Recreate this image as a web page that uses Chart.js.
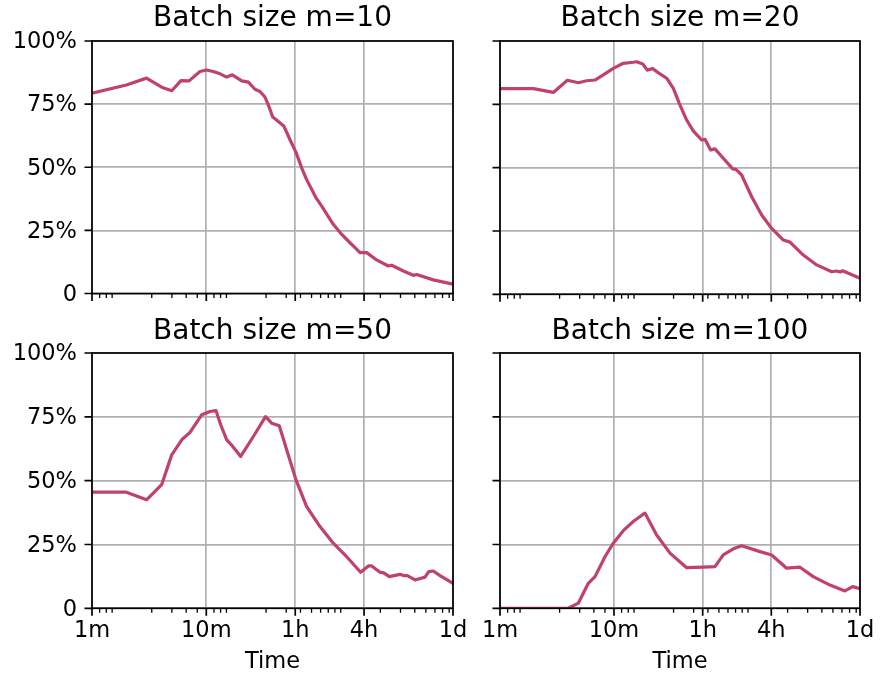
<!DOCTYPE html>
<html>
<head>
<meta charset="utf-8">
<script src="https://cdn.jsdelivr.net/npm/chart.js@4/dist/chart.umd.min.js"></script>
<style>
  html, body { margin: 0; padding: 0; background: #fff; width: 889px; height: 675px; overflow: hidden; }
  canvas { position: absolute; }
</style>
</head>
<body>
<canvas id="c1"></canvas>
<canvas id="c2"></canvas>
<canvas id="c3"></canvas>
<canvas id="c4"></canvas>
<script>
// ---- data (x in seconds, y in percent) ----
const titles = ['Batch size m=10', 'Batch size m=20', 'Batch size m=50', 'Batch size m=100'];

const timesM10 = [60,120,180,244,299,360,424,528,602,690,791,905,1014,1225,1400,1600,1770,1956,2093,2286,2560,2870,3240,3655,4103,4530,5471,6137,7741,9180,10848,12000,13260,15180,18540,23460,25140,31800,38820,41580,58080,86400];
const valuesM10 = [79.3,82.6,85.3,81.7,80.3,84.3,84.2,87.9,88.5,87.9,87.0,85.7,86.6,84.2,83.7,80.9,80.0,77.8,74.7,69.9,68.1,66.2,60.9,55.9,49.7,45.1,37.9,34.6,27.4,23.4,20.1,18.2,16.2,16.2,13.3,10.9,11.2,8.9,7.2,7.5,5.4,3.7];

const timesM20 = [60,118,176,234,292,345,409,484,592,724,886,948,1073,1176,1310,1520,1740,1990,2244,2604,2976,3527,3768,4230,4614,5460,6600,7050,7908,9684,11856,14508,18360,21000,27480,36000,48780,53940,57600,60840,86400];
const valuesM20 = [81.2,81.2,79.7,84.5,83.5,84.3,84.6,86.6,89.2,91.2,91.6,91.8,90.9,88.5,89.1,87.0,85.3,81.3,75.4,68.8,64.5,60.9,61.2,57.0,57.4,53.7,49.5,49.3,47.1,38.5,31.3,26.0,21.4,20.6,15.5,11.6,8.9,9.2,8.8,9.3,6.3];

const timesM50 = [60,120,180,244,299,366,432,547,646,730,802,905,1014,1200,1548,1980,2240,2610,3030,3655,4530,5928,7741,10140,13440,15720,16800,19860,21240,23940,29700,31800,34440,40200,49140,53220,58080,66540,86400];
const valuesM50 = [45.5,45.5,42.5,48.4,60.1,66.0,68.9,75.8,77.1,77.4,71.9,66.0,63.6,59.5,67.3,75.1,72.5,71.5,62.1,50.3,39.8,32.0,25.5,20.2,14.1,16.6,16.6,14.1,14.0,12.4,13.3,12.8,12.8,11.1,12.2,14.4,14.6,12.8,9.8];

const timesM100 = [60,238,292,357,409,500,592,724,886,1122,1420,1860,2604,3648,4614,5460,6684,7908,11460,14508,19620,25680,33600,47100,63720,74520,86400];
const valuesM100 = [0,0,2.0,9.8,12.4,20.2,25.5,30.4,34.0,37.3,28.7,21.6,15.9,16.1,16.3,20.9,23.3,24.5,22.2,20.9,15.7,16.1,12.4,9.1,6.8,8.5,7.7];

const xTickValues = [60, 600, 3600, 14400, 86400];
const xTickLabels = ['1m', '10m', '1h', '4h', '1d'];
const xMinorTicks = [70,80,90,200,300,400,500,700,800,900,2000,3000,4000,5000,6000,7000,8000,9000,20000,30000,40000,50000,60000,70000,80000];
const yTickValues = [0, 25, 50, 75, 100];
const yTickLabels = ['0', '25%', '50%', '75%', '100%'];
const xAxisTitle = 'Time';

// ---- style ----
const LINE = '#c0416b';
const GRID = '#b0b0b0';
const FONT = 'DejaVu Sans';
const TITLE_SIZE = 28;
const TICK_SIZE = 22.5;

const framePlugin = {
  id: 'frame',
  afterDraw(chart) {
    const {ctx, chartArea: a, scales: {x, y}} = chart;
    ctx.save();
    ctx.strokeStyle = '#000';
    ctx.lineCap = 'butt';
    ctx.lineWidth = 1.7;
    ctx.beginPath();
    xTickValues.forEach(v => { const p = x.getPixelForValue(v); ctx.moveTo(p, a.bottom); ctx.lineTo(p, a.bottom + 7.5); });
    yTickValues.forEach(v => { const p = y.getPixelForValue(v); ctx.moveTo(a.left, p); ctx.lineTo(a.left - 7.5, p); });
    ctx.stroke();
    ctx.lineWidth = 1.3;
    ctx.beginPath();
    xMinorTicks.forEach(v => { const p = x.getPixelForValue(v); ctx.moveTo(p, a.bottom); ctx.lineTo(p, a.bottom + 4.4); });
    ctx.stroke();
    ctx.lineWidth = 1.7;
    ctx.strokeRect(a.left, a.top, a.right - a.left, a.bottom - a.top);
    ctx.restore();
  }
};

function makeChart(id, cfg) {
  const cv = document.getElementById(id);
  cv.width = cfg.w; cv.height = cfg.h;
  cv.style.left = cfg.left + 'px'; cv.style.top = cfg.top + 'px';
  cv.style.width = cfg.w + 'px'; cv.style.height = cfg.h + 'px';
  const data = cfg.times.map((t, i) => ({x: t, y: cfg.values[i]}));
  const lh = TITLE_SIZE * 1.2;
  return new Chart(cv, {
    type: 'line',
    data: { datasets: [{ data, borderColor: LINE, borderWidth: 3.2, pointRadius: 0, tension: 0, fill: false, borderJoinStyle: 'round', borderCapStyle: 'butt' }] },
    options: {
      responsive: false, animation: false, devicePixelRatio: 1,
      layout: { padding: { left: 0, right: cfg.padRight, top: 0, bottom: 0 } },
      plugins: {
        legend: { display: false }, tooltip: { enabled: false },
        title: { display: true, fullSize: false, text: cfg.title, color: '#000', font: { family: FONT, size: TITLE_SIZE, weight: 'normal' }, padding: { top: cfg.titleTop, bottom: 41 - lh - cfg.titleTop } }
      },
      scales: {
        x: {
          type: 'logarithmic', min: 60, max: 86400,
          afterBuildTicks: s => { s.ticks = xTickValues.map(v => ({ value: v })); },
          afterFit: s => { s.height = cfg.xh; },
          ticks: { display: cfg.showX, autoSkip: false, maxRotation: 0, minRotation: 0, padding: 9.4, color: '#000', font: { family: FONT, size: TICK_SIZE }, callback: (v, i) => xTickLabels[i] },
          grid: { color: GRID, lineWidth: 1.7, drawTicks: false },
          border: { display: false },
          title: { display: cfg.showX, text: xAxisTitle, color: '#000', font: { family: FONT, size: TICK_SIZE }, padding: { top: 0, bottom: 0.3 } }
        },
        y: {
          type: 'linear', min: 0, max: 100,
          afterBuildTicks: s => { s.ticks = yTickValues.map(v => ({ value: v })); },
          afterFit: s => { s.width = cfg.yw; },
          ticks: { display: cfg.showY, padding: 15, labelOffset: 1.5, color: '#000', font: { family: FONT, size: TICK_SIZE }, callback: (v, i) => yTickLabels[i] },
          grid: { color: GRID, lineWidth: 1.7, drawTicks: false },
          border: { display: false }
        }
      }
    },
    plugins: [framePlugin]
  });
}

makeChart('c1', { title: titles[0], times: timesM10, values: valuesM10, left: 0, top: 0, w: 470, h: 322, padRight: 17, yw: 92, xh: 27.7, showX: false, showY: true, titleTop: 1.8 });
makeChart('c2', { title: titles[1], times: timesM20, values: valuesM20, left: 440, top: 0, w: 449, h: 322, padRight: 29, yw: 60, xh: 27.7, showX: false, showY: false, titleTop: 1.8 });
makeChart('c3', { title: titles[2], times: timesM50, values: valuesM50, left: 0, top: 312, w: 482, h: 364, padRight: 29, yw: 92, xh: 67.7, showX: true, showY: true, titleTop: 3.3 });
makeChart('c4', { title: titles[3], times: timesM100, values: valuesM100, left: 440, top: 312, w: 449, h: 364, padRight: 29, yw: 60, xh: 67.7, showX: true, showY: false, titleTop: 3.3 });
</script>
</body>
</html>
